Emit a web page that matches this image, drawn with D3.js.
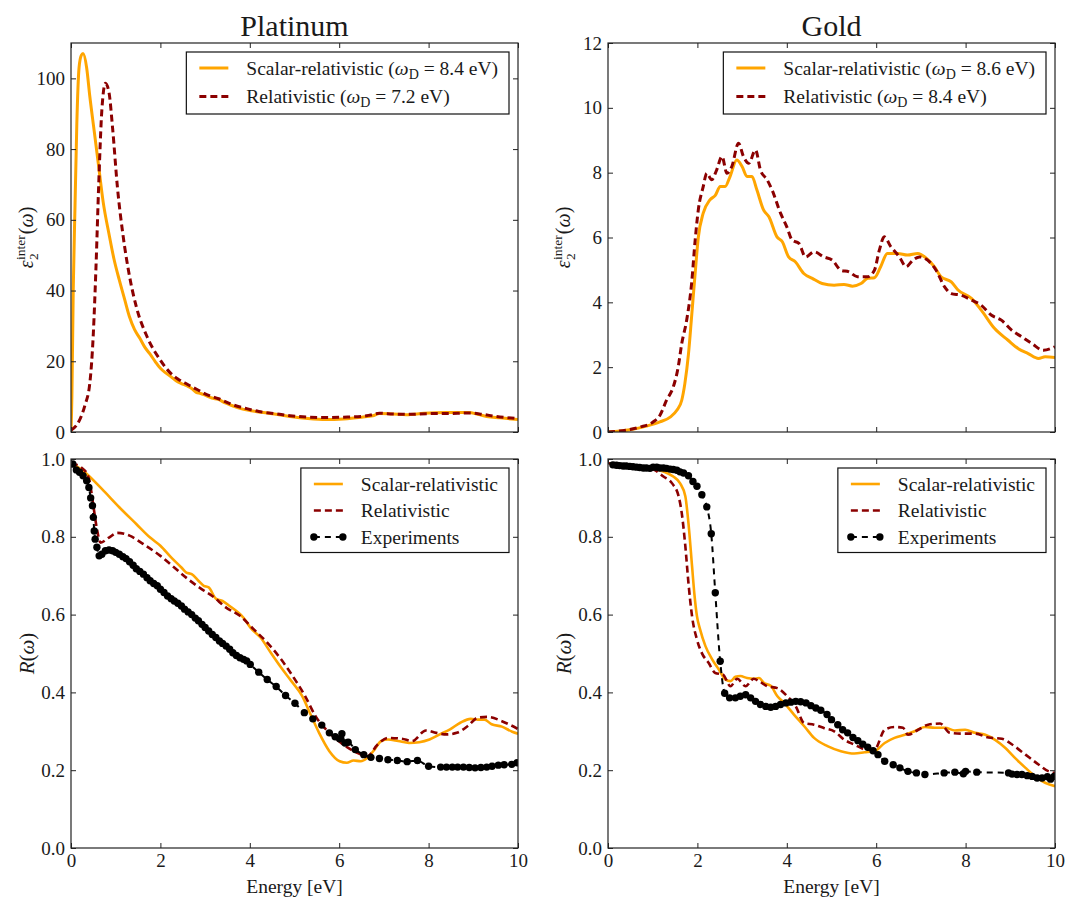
<!DOCTYPE html>
<html><head><meta charset="utf-8">
<script src="https://cdn.jsdelivr.net/npm/d3@7"></script>
<style>
body{margin:0;background:#fff}
svg text{font-family:"Liberation Serif","Times New Roman",serif;fill:#1a1a1a}
</style>
</head><body>
<svg id="chart" width="1065" height="898"></svg>
<script>
// ---------------- DATA ----------------
const energyTicks = [0, 2, 4, 6, 8, 10];
const ptEpsTicks = [0, 20, 40, 60, 80, 100];
const auEpsTicks = [0, 2, 4, 6, 8, 10, 12];
const reflTicks = [0.0, 0.2, 0.4, 0.6, 0.8, 1.0];
const titles = ["Platinum", "Gold"];

// Platinum eps2 inter, [energy eV, value]
const ptEpsScalar = [[0,0],[0.02,10],[0.05,40],[0.09,64],[0.13,87],[0.18,103],[0.23,106.5],[0.27,107],[0.35,103],[0.42,95],[0.52,85],[0.62,75],[0.72,65],[0.85,56],[0.96,49],[1.08,43],[1.2,37.5],[1.31,32.5],[1.42,29],[1.54,26.5],[1.65,24],[1.77,22],[1.88,20],[2.0,18],[2.12,16.7],[2.24,15.6],[2.35,14.5],[2.47,13.7],[2.6,13],[2.7,12.3],[2.8,11.2],[2.9,10.9],[3.0,10.4],[3.15,9.6],[3.3,9.2],[3.45,8.2],[3.6,7.5],[3.8,6.6],[4.0,6.1],[4.3,5.5],[4.55,5.1],[4.9,4.4],[5.3,3.8],[5.7,3.5],[6.1,3.7],[6.5,4.2],[6.75,4.6],[6.9,5.2],[7.2,5.1],[7.5,4.9],[7.9,5.3],[8.4,5.5],[8.9,5.5],[9.1,5.0],[9.3,4.4],[9.6,4.0],[10,3.5]];
const ptEpsRel = [[0,0.5],[0.15,2.4],[0.31,7.5],[0.42,13.7],[0.5,28],[0.56,47],[0.62,70],[0.69,91],[0.77,98.6],[0.85,96],[0.93,86],[1.04,69],[1.16,56],[1.31,44],[1.47,35],[1.7,27],[2.0,20.3],[2.2,17],[2.39,15],[2.6,13.5],[2.85,11.8],[3.05,10.5],[3.3,9.4],[3.6,7.8],[3.93,6.6],[4.2,5.8],[4.55,5.2],[4.9,4.6],[5.3,4.2],[5.7,4.1],[6.1,4.2],[6.5,4.4],[6.7,4.8],[6.9,5.3],[7.2,5.1],[7.6,5.0],[8.0,5.2],[8.4,5.2],[8.9,5.4],[9.2,5.0],[9.5,4.4],[10,3.8]];

// Gold eps2 inter
const auEpsScalar = [[0,0],[0.49,0.07],[0.86,0.18],[1.16,0.31],[1.39,0.46],[1.54,0.67],[1.65,0.98],[1.72,1.5],[1.8,2.4],[1.87,3.55],[1.95,4.9],[2.02,6.0],[2.13,6.75],[2.28,7.16],[2.4,7.3],[2.51,7.57],[2.62,7.57],[2.73,7.88],[2.88,8.39],[3.0,8.19],[3.11,7.88],[3.22,7.88],[3.33,7.47],[3.48,6.85],[3.6,6.64],[3.78,6.02],[3.9,5.87],[4.04,5.4],[4.19,5.25],[4.38,4.89],[4.57,4.74],[4.79,4.58],[5.06,4.53],[5.28,4.55],[5.47,4.5],[5.66,4.58],[5.81,4.74],[5.96,4.76],[6.1,5.1],[6.25,5.51],[6.48,5.51],[6.7,5.46],[6.93,5.51],[7.12,5.36],[7.3,5.1],[7.45,4.79],[7.68,4.63],[7.83,4.38],[8.13,4.12],[8.35,3.76],[8.65,3.19],[8.95,2.83],[9.18,2.57],[9.4,2.42],[9.63,2.27],[9.78,2.32],[10,2.3]];
const auEpsRel = [[0,0],[0.71,0.15],[1.01,0.31],[1.16,0.51],[1.31,0.98],[1.46,1.39],[1.57,2.0],[1.65,2.73],[1.76,3.45],[1.87,4.58],[1.95,5.92],[2.02,6.85],[2.13,7.57],[2.21,7.98],[2.32,7.78],[2.43,8.08],[2.55,8.5],[2.66,7.98],[2.77,8.19],[2.92,8.91],[3.03,8.5],[3.15,8.29],[3.3,8.7],[3.41,8.08],[3.56,7.78],[3.67,7.47],[3.86,6.75],[4.0,6.33],[4.12,5.92],[4.27,5.82],[4.42,5.4],[4.61,5.56],[4.83,5.4],[5.02,5.3],[5.21,4.99],[5.39,4.94],[5.58,4.79],[5.81,4.79],[5.96,4.99],[6.07,5.61],[6.18,6.02],[6.33,5.71],[6.52,5.4],[6.67,5.1],[6.82,5.3],[6.97,5.4],[7.15,5.3],[7.34,4.99],[7.53,4.48],[7.68,4.27],[7.9,4.22],[8.13,4.07],[8.35,3.91],[8.58,3.6],[8.8,3.45],[9.03,3.14],[9.25,2.94],[9.48,2.73],[9.74,2.52],[10,2.63]];

// Platinum reflectivity
const ptRScalar = [[0,0.99],[0.31,0.966],[0.69,0.923],[1.08,0.876],[1.46,0.833],[1.77,0.798],[2.0,0.777],[2.24,0.747],[2.47,0.721],[2.58,0.708],[2.7,0.704],[2.85,0.687],[2.97,0.674],[3.08,0.67],[3.24,0.641],[3.39,0.635],[3.55,0.622],[3.7,0.609],[3.86,0.592],[4.01,0.567],[4.24,0.541],[4.47,0.502],[4.7,0.464],[4.93,0.429],[5.17,0.391],[5.36,0.343],[5.55,0.296],[5.78,0.249],[6.01,0.223],[6.17,0.219],[6.32,0.225],[6.48,0.223],[6.63,0.232],[6.79,0.253],[6.94,0.275],[7.09,0.279],[7.32,0.275],[7.56,0.27],[7.79,0.272],[8.02,0.279],[8.25,0.292],[8.48,0.305],[8.71,0.322],[8.94,0.332],[9.1,0.33],[9.25,0.33],[9.41,0.318],[9.64,0.312],[9.87,0.299],[10,0.294]];
const ptRRel = [[0,0.99],[0.31,0.97],[0.42,0.94],[0.5,0.88],[0.58,0.82],[0.66,0.785],[0.85,0.798],[1.04,0.81],[1.31,0.803],[1.62,0.781],[2.0,0.751],[2.31,0.721],[2.62,0.691],[2.93,0.665],[3.16,0.648],[3.47,0.618],[3.78,0.597],[4.09,0.562],[4.39,0.528],[4.7,0.485],[5.01,0.433],[5.24,0.39],[5.47,0.339],[5.78,0.296],[6.09,0.266],[6.4,0.245],[6.63,0.236],[6.86,0.266],[7.09,0.283],[7.4,0.281],[7.63,0.275],[7.94,0.302],[8.17,0.296],[8.4,0.292],[8.63,0.296],[8.87,0.313],[9.1,0.335],[9.33,0.337],[9.64,0.326],[10,0.306]];
const ptRExp = [[0.04,0.987],[0.12,0.972],[0.19,0.966],[0.27,0.957],[0.35,0.944],[0.4,0.927],[0.44,0.9],[0.48,0.88],[0.5,0.85],[0.52,0.815],[0.54,0.794],[0.58,0.773],[0.63,0.751],[0.69,0.755],[0.77,0.764],[0.85,0.766],[0.93,0.764],[1.0,0.76],[1.08,0.755],[1.16,0.749],[1.23,0.744],[1.31,0.736],[1.39,0.727],[1.46,0.718],[1.54,0.711],[1.62,0.704],[1.7,0.695],[1.77,0.687],[1.85,0.68],[1.93,0.674],[2.0,0.665],[2.08,0.657],[2.16,0.648],[2.24,0.641],[2.31,0.635],[2.39,0.629],[2.47,0.622],[2.54,0.614],[2.62,0.607],[2.7,0.6],[2.78,0.591],[2.85,0.584],[2.93,0.575],[3.0,0.567],[3.08,0.558],[3.16,0.549],[3.24,0.541],[3.32,0.532],[3.39,0.526],[3.47,0.519],[3.55,0.511],[3.62,0.502],[3.7,0.495],[3.78,0.489],[3.86,0.485],[3.93,0.481],[4.01,0.472],[4.2,0.452],[4.39,0.433],[4.59,0.415],[4.8,0.392],[5.01,0.372],[5.22,0.348],[5.41,0.332],[5.61,0.316],[5.78,0.296],[5.91,0.286],[6.01,0.281],[6.06,0.294],[6.13,0.27],[6.2,0.272],[6.36,0.253],[6.55,0.24],[6.71,0.233],[6.9,0.23],[7.09,0.227],[7.3,0.225],[7.52,0.222],[7.75,0.225],[8.0,0.21],[8.27,0.208],[8.4,0.208],[8.53,0.208],[8.65,0.208],[8.78,0.208],[8.91,0.207],[9.04,0.206],[9.17,0.207],[9.3,0.208],[9.42,0.21],[9.56,0.213],[9.69,0.214],[9.86,0.215],[9.98,0.219]];

// Gold reflectivity
const auRScalar = [[0,0.99],[0.34,0.981],[0.94,0.977],[1.24,0.968],[1.46,0.955],[1.61,0.938],[1.73,0.904],[1.8,0.835],[1.88,0.725],[1.93,0.656],[1.99,0.596],[2.06,0.562],[2.18,0.519],[2.33,0.485],[2.48,0.459],[2.63,0.433],[2.74,0.429],[2.85,0.44],[2.96,0.442],[3.11,0.437],[3.26,0.435],[3.38,0.437],[3.49,0.424],[3.64,0.417],[3.79,0.39],[3.94,0.373],[4.16,0.343],[4.39,0.313],[4.61,0.283],[4.91,0.262],[5.21,0.249],[5.51,0.243],[5.74,0.246],[5.96,0.249],[6.19,0.27],[6.41,0.283],[6.64,0.291],[6.86,0.3],[7.09,0.311],[7.31,0.309],[7.54,0.309],[7.76,0.302],[7.99,0.304],[8.21,0.296],[8.44,0.291],[8.66,0.278],[8.89,0.257],[9.11,0.231],[9.34,0.206],[9.56,0.184],[9.79,0.167],[10,0.159]];
const auRRel = [[0,0.99],[0.34,0.98],[1.01,0.973],[1.24,0.955],[1.43,0.938],[1.58,0.904],[1.65,0.861],[1.73,0.776],[1.8,0.681],[1.88,0.596],[1.99,0.536],[2.1,0.501],[2.25,0.476],[2.4,0.45],[2.57,0.446],[2.74,0.416],[2.89,0.435],[3.08,0.416],[3.26,0.435],[3.38,0.429],[3.56,0.416],[3.79,0.411],[4.01,0.39],[4.2,0.364],[4.39,0.321],[4.61,0.317],[4.84,0.308],[5.06,0.3],[5.29,0.278],[5.51,0.266],[5.78,0.253],[5.96,0.253],[6.19,0.304],[6.41,0.311],[6.6,0.309],[6.71,0.291],[6.94,0.304],[7.16,0.317],[7.43,0.32],[7.65,0.296],[7.92,0.294],[8.21,0.294],[8.51,0.284],[8.81,0.281],[9.04,0.266],[9.34,0.24],[9.64,0.214],[9.86,0.197],[10,0.193]];
const auRExp = [[0.11,0.985],[0.19,0.984],[0.26,0.983],[0.34,0.982],[0.41,0.982],[0.49,0.981],[0.56,0.98],[0.64,0.979],[0.71,0.978],[0.79,0.977],[0.86,0.977],[0.94,0.976],[1.01,0.979],[1.09,0.979],[1.16,0.977],[1.24,0.977],[1.31,0.976],[1.39,0.974],[1.46,0.973],[1.54,0.971],[1.61,0.967],[1.69,0.964],[1.8,0.957],[1.9,0.942],[1.99,0.93],[2.1,0.908],[2.21,0.877],[2.31,0.808],[2.4,0.656],[2.51,0.48],[2.61,0.398],[2.72,0.386],[2.85,0.386],[2.96,0.39],[3.08,0.394],[3.19,0.386],[3.3,0.377],[3.41,0.369],[3.53,0.364],[3.64,0.362],[3.75,0.364],[3.86,0.369],[3.98,0.373],[4.09,0.375],[4.2,0.377],[4.31,0.376],[4.43,0.373],[4.54,0.366],[4.65,0.36],[4.76,0.354],[4.9,0.343],[5.0,0.33],[5.14,0.317],[5.25,0.304],[5.36,0.296],[5.48,0.284],[5.59,0.276],[5.7,0.267],[5.81,0.259],[5.93,0.25],[6.04,0.24],[6.19,0.223],[6.38,0.214],[6.53,0.206],[6.71,0.197],[6.9,0.193],[7.09,0.189],[7.52,0.193],[7.76,0.195],[7.95,0.191],[8.0,0.197],[8.25,0.195],[8.96,0.193],[9.04,0.19],[9.15,0.189],[9.26,0.189],[9.38,0.186],[9.49,0.184],[9.6,0.18],[9.71,0.18],[9.83,0.183],[9.9,0.177],[9.98,0.184]];

const legendTopPt = ["Scalar-relativistic", "8.4", "Relativistic", "7.2"];
const legendTopAu = ["Scalar-relativistic", "8.6", "Relativistic", "8.4"];
const legendBottom = ["Scalar-relativistic", "Relativistic", "Experiments"];

// ---------------- DRAWING ----------------
const FONT = '"Liberation Serif","Times New Roman",serif';
const ORANGE = "#FFA500", DARKRED = "#8B0000", BLACK = "#000";
const svg = d3.select("#chart").attr("font-family", FONT);
const colX = [[71, 518], [608, 1055]];
const rowY = [[43, 432], [459, 848]];

const panels = [
  {col:0,row:0,dom:[0,110],ticks:ptEpsTicks,fmt:d=>d,series:[[ptEpsScalar,"s"],[ptEpsRel,"r"]],legend:legendTopPt,ylab:"eps"},
  {col:1,row:0,dom:[0,12],ticks:auEpsTicks,fmt:d=>d,series:[[auEpsScalar,"s"],[auEpsRel,"r"]],legend:legendTopAu,ylab:"eps"},
  {col:0,row:1,dom:[0,1],ticks:reflTicks,fmt:d3.format(".1f"),series:[[ptRScalar,"s"],[ptRRel,"r"],[ptRExp,"e"]],legend:legendBottom,ylab:"R"},
  {col:1,row:1,dom:[0,1],ticks:reflTicks,fmt:d3.format(".1f"),series:[[auRScalar,"s"],[auRRel,"r"],[auRExp,"e"]],legend:legendBottom,ylab:"R"}
];

const styles = {
  s: {stroke:ORANGE, dash:null},
  r: {stroke:DARKRED, dash:"7,4"},
  e: {stroke:BLACK, dash:"6,5"}
};

panels.forEach((p, i) => {
  const [x0, x1] = colX[p.col], [y0, y1] = rowY[p.row];
  const x = d3.scaleLinear().domain([0, 10]).range([x0, x1]);
  const y = d3.scaleLinear().domain(p.dom).range([y1, y0]);
  const lw = p.row === 0 ? 3 : 2.6;

  const clipId = "clip" + i;
  svg.append("clipPath").attr("id", clipId).append("rect")
    .attr("x", x0).attr("y", y0).attr("width", x1 - x0).attr("height", y1 - y0);

  const g = svg.append("g");
  const plot = g.append("g").attr("clip-path", `url(#${clipId})`);
  const line = d3.line().x(d => x(d[0])).y(d => y(d[1])).curve(d3.curveMonotoneX);

  p.series.forEach(([data, key]) => {
    const st = styles[key];
    plot.append("path").datum(data).attr("d", line)
      .attr("fill", "none").attr("stroke", st.stroke)
      .attr("stroke-width", key === "e" ? 2 : lw)
      .attr("stroke-dasharray", st.dash)
      .attr("stroke-linejoin", "round");
    if (key === "e") {
      plot.selectAll(null).data(data).enter().append("circle")
        .attr("cx", d => x(d[0])).attr("cy", d => y(d[1])).attr("r", 3.7).attr("fill", BLACK);
    }
  });

  // axes (inward ticks on all sides)
  const tl = 5;
  const bottomAxis = d3.axisBottom(x).tickValues(energyTicks).tickSizeInner(-tl).tickSizeOuter(0).tickPadding(6);
  const topAxis = d3.axisTop(x).tickValues(energyTicks).tickSizeInner(-tl).tickSizeOuter(0).tickFormat("");
  const leftAxis = d3.axisLeft(y).tickValues(p.ticks).tickFormat(p.fmt).tickSizeInner(-tl).tickSizeOuter(0).tickPadding(6);
  const rightAxis = d3.axisRight(y).tickValues(p.ticks).tickSizeInner(-tl).tickSizeOuter(0).tickFormat("");
  if (p.row === 0) bottomAxis.tickFormat("");

  const axes = [
    g.append("g").attr("transform", `translate(0,${y1})`).call(bottomAxis),
    g.append("g").attr("transform", `translate(0,${y0})`).call(topAxis),
    g.append("g").attr("transform", `translate(${x0},0)`).call(leftAxis),
    g.append("g").attr("transform", `translate(${x1},0)`).call(rightAxis)
  ];
  axes.forEach(a => {
    a.attr("font-family", FONT);
    a.select(".domain").remove();
    a.selectAll(".tick line").attr("stroke", "#222").attr("stroke-width", 1);
    a.selectAll(".tick text").attr("font-size", 19).attr("fill", "#1a1a1a").attr("font-family", FONT);
  });
  g.append("rect").attr("x", x0).attr("y", y0).attr("width", x1 - x0).attr("height", y1 - y0)
    .attr("fill", "none").attr("stroke", "#222").attr("stroke-width", 1.2);

  // legend
  const lg = g.append("g");
  const rows = [];
  if (p.row === 0) {
    rows.push({key:"s", name:p.legend[0], wd:p.legend[1]});
    rows.push({key:"r", name:p.legend[2], wd:p.legend[3]});
  } else {
    p.legend.forEach((n, k) => rows.push({key:["s","r","e"][k], name:n}));
  }
  const rowH = p.row === 0 ? 28.5 : 26.5;
  const padL = 13, lineL = 29, gap = 18, padR = 11;
  const boxTop = y0 + 9;
  const firstRow = boxTop + 16;
  const fsL = 19.5;
  const texts = [];
  rows.forEach((r, k) => {
    const t = lg.append("text").attr("y", firstRow + k * rowH + 6.5).attr("font-size", fsL);
    t.append("tspan").text(r.name);
    if (r.wd) {
      t.append("tspan").text(" (");
      t.append("tspan").attr("font-style", "italic").text("ω");
      t.append("tspan").attr("font-size", 14).attr("dy", 4).text("D");
      t.append("tspan").attr("dy", -4).text(" = " + r.wd + " eV)");
    }
    texts.push(t);
  });
  const maxW = d3.max(texts, t => t.node().getComputedTextLength());
  const boxW = padL + lineL + gap + maxW + padR;
  const boxH = rows.length * rowH + 5;
  const boxL = x1 - 9 - boxW;
  lg.insert("rect", ":first-child").attr("x", boxL).attr("y", boxTop).attr("width", boxW).attr("height", boxH)
    .attr("fill", "#fff").attr("stroke", "#111").attr("stroke-width", 1.2);
  texts.forEach(t => t.attr("x", boxL + padL + lineL + gap));
  rows.forEach((r, k) => {
    const yy = firstRow + k * rowH;
    const st = styles[r.key];
    lg.append("line").attr("x1", boxL + padL).attr("x2", boxL + padL + lineL).attr("y1", yy).attr("y2", yy)
      .attr("stroke", st.stroke).attr("stroke-width", r.key === "e" ? 2 : lw).attr("stroke-dasharray", st.dash);
    if (r.key === "e") {
      [boxL + padL, boxL + padL + lineL].forEach(cx => lg.append("circle").attr("cx", cx).attr("cy", yy).attr("r", 3.7).attr("fill", BLACK));
    }
  });

  // title / x label
  if (p.row === 0) {
    g.append("text").attr("x", (x0 + x1) / 2).attr("y", 36).attr("text-anchor", "middle")
      .attr("font-size", 30).text(titles[p.col]);
  } else {
    g.append("text").attr("x", (x0 + x1) / 2).attr("y", 893).attr("text-anchor", "middle")
      .attr("font-size", 19.5).text("Energy [eV]");
  }

  // y label
  const labX = p.col === 0 ? 27 : 564;
  const cy = (y0 + y1) / 2;
  const yl = g.append("g").attr("transform", `translate(${labX},${cy}) rotate(-90)`);
  if (p.ylab === "eps") {
    const fs = 20;
    const inner = yl.append("g");
    const e = inner.append("text").attr("font-size", fs).attr("font-style", "italic").attr("x", 0).attr("y", 0).text("ε");
    let cx = e.node().getComputedTextLength() + 0.5;
    const sup = inner.append("text").attr("font-size", 13.5).attr("x", cx).attr("y", -8).text("inter");
    inner.append("text").attr("font-size", 13.5).attr("x", cx).attr("y", 5).text("2");
    cx += sup.node().getComputedTextLength() + 1;
    const rest = inner.append("text").attr("font-size", fs).attr("x", cx).attr("y", 0);
    rest.append("tspan").text("(");
    rest.append("tspan").attr("font-style", "italic").text("ω");
    rest.append("tspan").text(")");
    const total = cx + rest.node().getComputedTextLength();
    inner.attr("transform", `translate(${-total / 2},6)`);
  } else {
    const t = yl.append("text").attr("font-size", 21).attr("text-anchor", "middle").attr("y", 7);
    t.append("tspan").attr("font-style", "italic").text("R");
    t.append("tspan").text("(");
    t.append("tspan").attr("font-style", "italic").text("ω");
    t.append("tspan").text(")");
  }
});
</script>
</body></html>
